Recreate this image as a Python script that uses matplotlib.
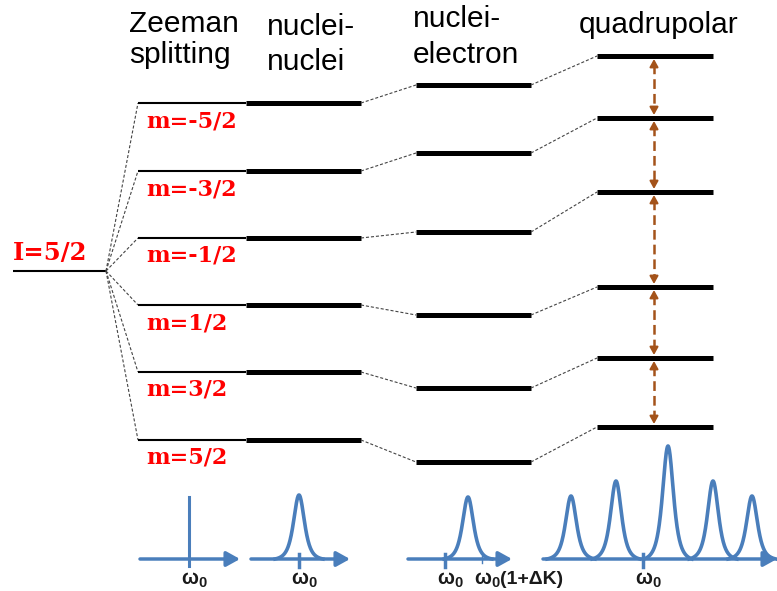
import numpy as np
import matplotlib
matplotlib.use("Agg")
import matplotlib.pyplot as plt

plt.rcParams['lines.scale_dashes'] = False

# ---- energy levels (vertical position in figure pixels, top = 0) ----
spin_level = 271
spin_label = "I=5/2"
m_labels = ["m=-5/2", "m=-3/2", "m=-1/2", "m=1/2", "m=3/2", "m=5/2"]
zeeman_levels = [103, 171, 238, 305, 372, 440]
electron_levels = [85, 153, 232, 315, 388, 462]
quad_levels = [56, 118, 192, 287, 358, 427]

# ---- column headings ----
headings = [
    ("Zeeman", 129, 32), ("splitting", 129, 63),
    ("nuclei-", 267, 35), ("nuclei", 267, 70),
    ("nuclei-", 413, 27), ("electron", 413, 63),
    ("quadrupolar", 579, 33),
]

# ---- spectra ----
spec_baseline = 559
zeeman_line_pos = 189
zeeman_line_height = 62
nn_center, nn_height = 299, 64
ne_center, ne_height = 468, 62
quad_centers = [571, 616, 668, 713, 752]
quad_heights = [63, 78, 113, 78, 63]
omega_ticks = [189, 299, 445, 643]
shift_tick = 482
shift_suffix = "(1+ΔK)"

BLUE = "#4A7EBB"
BROWN = "#A4531A"
RED = "#FF0000"
DASH_GREY = "#444444"
LABEL_FONT = "Liberation Sans"

fig = plt.figure(figsize=(7.77, 5.91), dpi=100)
ax = fig.add_axes([0, 0, 1, 1])
ax.set_xlim(0, 777)
ax.set_ylim(591, 0)
ax.axis("off")
renderer = fig.canvas.get_renderer()

fine_dash = dict(color=DASH_GREY, lw=0.8, dashes=(2.2, 1.4))

# initial spin level and its label
ax.plot([13, 106], [spin_level, spin_level], color="black", lw=1.5, solid_capstyle="butt")
ax.text(13, spin_level - 18, spin_label, color=RED, family="DejaVu Serif",
        fontweight="bold", fontsize=17.5, ha="left", va="center")

for i, (yz, ye, yq) in enumerate(zip(zeeman_levels, electron_levels, quad_levels)):
    # fan from the degenerate level
    ax.plot([106, 138], [spin_level, yz], **fine_dash)
    # Zeeman level (thin) followed by nuclei-nuclei level (thick)
    ax.plot([138, 246], [yz, yz], color="black", lw=1.5, solid_capstyle="butt")
    ax.plot([246, 361], [yz, yz], color="black", lw=3.6, solid_capstyle="butt")
    ax.text(146, yz + 18, m_labels[i], color=RED, family="DejaVu Serif",
            fontweight="bold", fontsize=16, ha="left", va="center")
    # nuclei-electron level
    ax.plot([361, 416], [yz, ye], **fine_dash)
    ax.plot([416, 531], [ye, ye], color="black", lw=3.6, solid_capstyle="butt")
    # quadrupolar level
    ax.plot([531, 597], [ye, yq], **fine_dash)
    ax.plot([597, 713], [yq, yq], color="black", lw=3.6, solid_capstyle="butt")

# transitions between adjacent quadrupolar levels
arrow_x = 654
for y_top, y_bot in zip(quad_levels[:-1], quad_levels[1:]):
    a, b = y_top + 3, y_bot - 3
    ax.plot([arrow_x, arrow_x], [a + 5, b - 5], color=BROWN, lw=1.8, dashes=(7, 3.6))
    for tip, tail in ((a, a + 7), (b, b - 7)):
        ax.annotate("", xy=(arrow_x, tip), xytext=(arrow_x, tail),
                    arrowprops=dict(arrowstyle="-|>,head_length=0.45,head_width=0.25",
                                    mutation_scale=10, color=BROWN, lw=1.5,
                                    shrinkA=0, shrinkB=0))

for text, x, y in headings:
    ax.text(x, y, text, family="Liberation Sans", fontsize=21.5,
            ha="left", va="baseline", color="black")


def peak(center, height, half_range=24, a=10.0):
    x = np.linspace(center - half_range, center + half_range, 200)
    f = 1.0 / (1.0 + ((x - center) / a) ** 2) ** 2
    f_end = 1.0 / (1.0 + (half_range / a) ** 2) ** 2
    f = (f - f_end) / (1 - f_end)
    return x, spec_baseline - height * f


def freq_axis(x0, x1):
    ax.annotate("", xy=(x1, spec_baseline), xytext=(x0, spec_baseline),
                arrowprops=dict(arrowstyle="-|>,head_length=0.45,head_width=0.25",
                                mutation_scale=18, color=BLUE, lw=2.5,
                                shrinkA=0, shrinkB=0))


def text_width(t):
    return t.get_window_extent(renderer).width


def omega_label(x_center, y_base, suffix=""):
    """Bold omega with subscript 0, omega centred on x_center, optional suffix."""
    style = dict(family=LABEL_FONT, fontweight="bold", color="#1A1A1A", va="baseline")
    om = ax.text(x_center, y_base, "ω", fontsize=14.5, ha="center", **style)
    w = text_width(om)
    x = x_center + w / 2
    sub = ax.text(x, y_base + 3, "0", fontsize=10.5, ha="left", **style)
    x += text_width(sub)
    if suffix:
        ax.text(x, y_base, suffix, fontsize=14, ha="left", **style)


spec_lw = 2.6
# Zeeman: single sharp line
freq_axis(140, 240)
ax.plot([zeeman_line_pos, zeeman_line_pos],
        [spec_baseline - zeeman_line_height, spec_baseline + 7], color=BLUE, lw=2.2)

# nuclei-nuclei: broadened line
freq_axis(251, 350)
ax.plot(*peak(nn_center, nn_height), color=BLUE, lw=spec_lw)

# nuclei-electron: shifted line
freq_axis(408, 512)
ax.plot(*peak(ne_center, ne_height), color=BLUE, lw=spec_lw)
ax.plot([shift_tick, shift_tick], [spec_baseline - 3, spec_baseline + 4], color=BLUE, lw=1.0)

# quadrupolar: five satellite lines
freq_axis(543, 777)
for c, h in zip(quad_centers, quad_heights):
    ax.plot(*peak(c, h), color=BLUE, lw=spec_lw)

for x in omega_ticks[1:]:
    ax.plot([x, x], [spec_baseline - 5, spec_baseline + 8], color=BLUE, lw=2.5)

for x in omega_ticks:
    omega_label(x + 1, 584)
omega_label(shift_tick + 1, 584, shift_suffix)

fig.savefig("out.png", dpi=100)
